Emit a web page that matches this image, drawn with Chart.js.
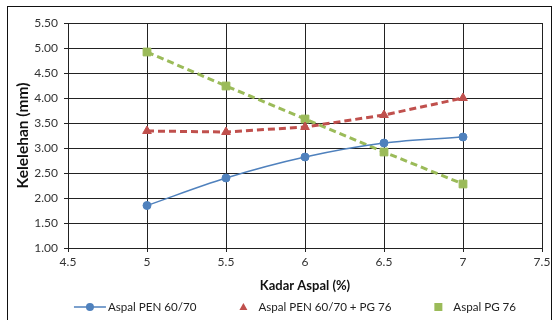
<!DOCTYPE html>
<html>
<head>
<meta charset="utf-8">
<script src="https://cdn.jsdelivr.net/npm/chart.js@4/dist/chart.umd.min.js"></script>
<style>
html, body { margin: 0; padding: 0; background: #fff; }
#wrap { position: relative; width: 558px; height: 320px; }
#frame { position: absolute; left: 7px; top: 6px; width: 545px; height: 320px; border: 1px solid #111; box-sizing: border-box; pointer-events: none; }
canvas { position: absolute; left: 0; top: 0; }
</style>
</head>
<body>
<div id="wrap">
<canvas id="c" width="558" height="320"></canvas>
<div id="frame"></div>
</div>
<script>
const kadarAspal = [5, 5.5, 6, 6.5, 7]
const pen6070 = [1.85, 2.40, 2.82, 3.10, 3.22]
const pen6070pg76 = [3.34, 3.32, 3.42, 3.66, 4.00]
const pg76 = [4.92, 4.24, 3.58, 2.92, 2.28]
const seriesNames = ["Aspal PEN 60/70", "Aspal PEN 60/70 + PG 76", "Aspal PG 76"]
const blue = "#4F81BD", red = "#C0504D", green = "#9BBB59"
const fontFam = "Lato, 'Open Sans', sans-serif"

function pts(ys) {
    return kadarAspal.map((x, i) => ({ x: x, y: ys[i] }))
}

// excel-like legend: blue gets line + marker, the others only a marker
const bottomLegend = {
    id: "bottomLegend",
    afterDraw(chart) {
        let g = chart.ctx
        g.save()
        g.font = "11.6px " + fontFam
        g.textBaseline = "middle"
        let gap = 42
        let iconW = [34, 20, 20]
        let widths = seriesNames.map((n, i) => iconW[i] + g.measureText(n).width)
        let total = widths.reduce((a, b) => a + b, 0) + gap * (widths.length - 1)
        let x = (chart.width - total) / 2 + 16
        let y = 307
        chart.data.datasets.forEach((ds, i) => {
            g.fillStyle = ds.borderColor
            g.strokeStyle = ds.borderColor
            if (i == 0) {
                g.lineWidth = 1.5
                g.beginPath(); g.moveTo(x, y); g.lineTo(x + 32, y); g.stroke()
                g.beginPath(); g.arc(x + 16, y, 4, 0, 2 * Math.PI); g.fill()
            } else if (i == 1) {
                g.beginPath(); g.moveTo(x + 5, y - 4); g.lineTo(x + 9, y + 3); g.lineTo(x + 1, y + 3); g.closePath(); g.fill()
            } else {
                g.fillRect(x + 1, y - 4, 8, 8)
            }
            g.fillStyle = "#222"
            g.fillText(ds.label, x + iconW[i], y)
            x += widths[i] + gap
        })
        g.restore()
    }
}

new Chart(document.getElementById("c"), {
    type: "line",
    data: {
        datasets: [{
            label: seriesNames[0],
            data: pts(pen6070),
            borderColor: blue,
            backgroundColor: blue,
            borderWidth: 1.5,
            pointStyle: "circle",
            pointRadius: 4,
            pointBorderWidth: 1,
            cubicInterpolationMode: "monotone"
        }, {
            label: seriesNames[1],
            data: pts(pen6070pg76),
            borderColor: red,
            backgroundColor: red,
            borderWidth: 3,
            borderDash: [7, 4],
            pointStyle: "triangle",
            pointRadius: 5,
            pointBorderWidth: 1,
            tension: 0
        }, {
            label: seriesNames[2],
            data: pts(pg76),
            borderColor: green,
            backgroundColor: green,
            borderWidth: 3,
            borderDash: [7, 4],
            pointStyle: "rect",
            pointRadius: 5.5,
            pointBorderWidth: 1,
            tension: 0
        }]
    },
    options: {
        responsive: false,
        animation: false,
        layout: { padding: { left: 14, right: 16, top: 23, bottom: 26 } },
        plugins: {
            tooltip: { enabled: false },
            legend: { display: false }
        },
        scales: {
            x: {
                type: "linear",
                min: 4.5,
                max: 7.5,
                afterFit: s => { s.height = 46 },
                ticks: { stepSize: 0.5, autoSkip: false, maxRotation: 0, color: "#333", callback: v => String(+v.toFixed(1)), font: { family: fontFam, size: 12 } },
                grid: { color: "#222", lineWidth: 1, tickLength: 4 },
                border: { color: "#222" },
                title: { display: true, text: "Kadar Aspal (%)", color: "#111", font: { family: fontFam, size: 13, weight: "bold" }, padding: { top: 2, bottom: 0 } }
            },
            y: {
                min: 1,
                max: 5.5,
                afterFit: s => { s.width = 54 },
                ticks: { stepSize: 0.5, autoSkip: false, color: "#333", padding: 6, callback: v => v.toFixed(2), font: { family: fontFam, size: 12 } },
                grid: { color: "#222", lineWidth: 1, tickLength: 4 },
                border: { color: "#222" },
                title: { display: true, text: "Kelelehan (mm)", color: "#111", font: { family: fontFam, size: 15.5, weight: "bold" }, padding: { top: 0, bottom: 0 } }
            }
        }
    },
    plugins: [bottomLegend]
})
</script>
</body>
</html>
